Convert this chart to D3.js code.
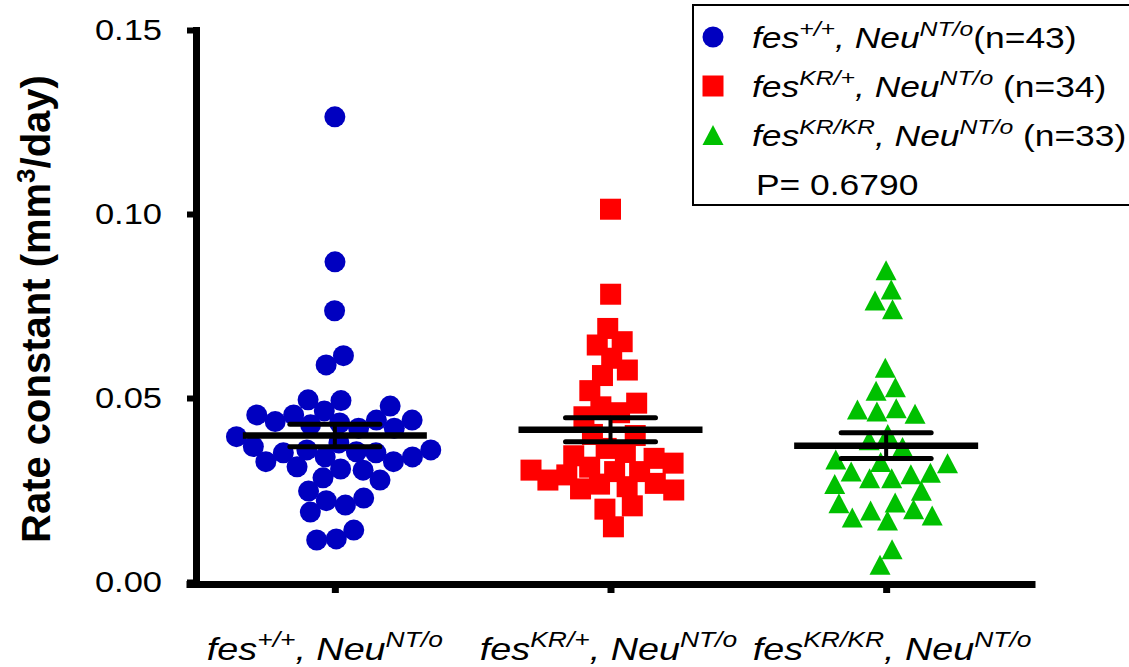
<!DOCTYPE html>
<meta charset="utf-8">
<style>
body { margin: 0; background: #fff; }
text { font-family: Arial, "Liberation Sans", sans-serif; fill: #000; }
</style>
<body>
<svg width="1129" height="667"></svg>
<script src="https://cdn.jsdelivr.net/npm/d3@7/dist/d3.min.js"></script>
<script>
// groups along the x axis
var groups = ["+/+", "KR/+", "KR/KR"];
var groupN = [43, 34, 33];
var groupColors = ["#0000c0", "#ff0000", "#00c000"];

// rate constants (mm3/day)
var wtValues = [0.1264, 0.0870, 0.0737, 0.0615, 0.0590, 0.0493, 0.0495, 0.0478, 0.0454, 0.0440,
  0.0427, 0.0418, 0.0436, 0.0440, 0.0454, 0.0432, 0.0465, 0.0418, 0.0395, 0.0359,
  0.0351, 0.0327, 0.0313, 0.0340, 0.0368, 0.0340, 0.0378, 0.0351, 0.0327, 0.0354,
  0.0304, 0.0307, 0.0283, 0.0277, 0.0247, 0.0221, 0.0209, 0.0228, 0.0190, 0.0141,
  0.0114, 0.0117, 0.0359];
var krValues = [0.1013, 0.0782, 0.0689, 0.0653, 0.0608, 0.0644, 0.0561, 0.0576, 0.0520, 0.0486,
  0.0460, 0.0476, 0.0449, 0.0398, 0.0401, 0.0352, 0.0363, 0.0336, 0.0343, 0.0323,
  0.0304, 0.0300, 0.0312, 0.0300, 0.0277, 0.0291, 0.0266, 0.0268, 0.0253, 0.0250,
  0.0259, 0.0207, 0.0198, 0.0150];
var krkrValues = [0.0847, 0.0795, 0.0765, 0.0741, 0.0582, 0.0529, 0.0520, 0.0472, 0.0469, 0.0457,
  0.0463, 0.0402, 0.0385, 0.0367, 0.0333, 0.0323, 0.0326, 0.0297, 0.0300, 0.0293,
  0.0282, 0.0282, 0.0266, 0.0248, 0.0214, 0.0216, 0.0194, 0.0198, 0.0175, 0.0181,
  0.0167, 0.0089, 0.0047];

var yTicks = [0, 0.05, 0.10, 0.15];
var pValue = "0.6790";

var allValues = [wtValues, krValues, krkrValues];

var svg = d3.select("svg");
var stretch = 1.18;

var y = d3.scaleLinear().domain([0, 0.15]).range([582, 30]);
var x = d3.scalePoint().domain(groups).range([186, 1035]).padding(0.54);

// y axis
var yAxis = svg.append("g")
    .attr("transform", "translate(196,0)")
    .call(d3.axisLeft(y).tickValues(yTicks).tickFormat(d3.format(".2f")).tickSize(9).tickSizeOuter(0));
yAxis.select(".domain").attr("stroke-width", 7).attr("stroke-linecap", "square");
yAxis.selectAll(".tick line").attr("stroke-width", 6);
yAxis.selectAll(".tick text")
    .attr("x", 0)
    .attr("transform", "translate(-34,0) scale(1.15,1)")
    .style("font-size", "30px")
    .style("font-family", "Arial, 'Liberation Sans', sans-serif");

// x axis
var xAxis = svg.append("g")
    .attr("transform", "translate(0," + (y(0) + 2) + ")")
    .call(d3.axisBottom(x).tickSize(9).tickSizeOuter(0).tickFormat(""));
xAxis.select(".domain").attr("stroke-width", 7);
xAxis.selectAll(".tick line").attr("stroke-width", 7);

// category labels
function genotype(sel, sup, size) {
  sel.append("tspan").attr("font-style", "italic").text("fes");
  sel.append("tspan").attr("font-style", "italic").attr("font-size", size * 0.7).attr("dy", -size * 0.4).text(sup);
  sel.append("tspan").attr("font-style", "italic").attr("dy", size * 0.4).text(", Neu");
  sel.append("tspan").attr("font-style", "italic").attr("font-size", size * 0.7).attr("dy", -size * 0.4).text("NT/o");
}

groups.forEach(function(g, i) {
  var t = svg.append("g")
      .attr("transform", "translate(" + (x(g) - 10 + i * 8) + ",660) scale(" + stretch + ",1)")
    .append("text")
      .attr("text-anchor", "middle")
      .attr("font-size", 32);
  genotype(t, g, 32);
});

// y title
var title = svg.append("text")
    .attr("transform", "translate(50,309) rotate(-90)")
    .attr("text-anchor", "middle")
    .attr("font-size", 40)
    .attr("font-weight", "bold");
title.append("tspan").text("Rate constant (mm");
title.append("tspan").attr("font-size", 26).attr("dy", -15).text("3");
title.append("tspan").attr("dy", 15).text("/day)");

// beeswarm: y is fixed by the value, x settles by collision
function swarm(values, cx) {
  var pts = values.map(function(v, i) {
    return {value: v, fy: y(v), y: y(v), x: cx + (i % 2 ? 1 : -1) * (i % 5)};
  });
  var sim = d3.forceSimulation(pts)
      .force("x", d3.forceX(cx).strength(0.03))
      .force("collide", d3.forceCollide(9.8).iterations(3))
      .stop();
  for (var k = 0; k < 400; k++) sim.tick();
  return pts;
}

var shapes = [
  function(g, c) { g.append("circle").attr("r", 10.5).attr("fill", c); },
  function(g, c) { g.append("rect").attr("x", -10.5).attr("y", -10.5).attr("width", 21).attr("height", 21).attr("fill", c); },
  function(g, c) { g.append("path").attr("d", "M0,-10L10.5,10L-10.5,10Z").attr("fill", c); }
];

groups.forEach(function(g, i) {
  var pts = swarm(allValues[i], x(g));
  svg.append("g").selectAll("g")
    .data(pts)
    .enter().append("g")
      .attr("transform", function(d) { return "translate(" + d.x + "," + d.fy + ")"; })
      .each(function() { shapes[i](d3.select(this), groupColors[i]); });
});

// mean and SEM
groups.forEach(function(g, i) {
  var vals = allValues[i];
  var m = d3.mean(vals);
  var sem = d3.deviation(vals) / Math.sqrt(vals.length);
  var cx = x(g);
  var grp = svg.append("g").attr("stroke", "#000").attr("stroke-linecap", "round");
  grp.append("line").attr("x1", cx).attr("x2", cx).attr("y1", y(m + sem)).attr("y2", y(m - sem)).attr("stroke-width", 4);
  grp.append("line").attr("x1", cx - 45).attr("x2", cx + 45).attr("y1", y(m + sem)).attr("y2", y(m + sem)).attr("stroke-width", 5);
  grp.append("line").attr("x1", cx - 45).attr("x2", cx + 45).attr("y1", y(m - sem)).attr("y2", y(m - sem)).attr("stroke-width", 5);
  grp.append("line").attr("x1", cx - 92).attr("x2", cx + 92).attr("y1", y(m)).attr("y2", y(m))
      .attr("stroke-width", 6.5).attr("stroke-linecap", "butt");
});

// legend
var legend = svg.append("g");
legend.append("rect")
    .attr("x", 693).attr("y", 5).attr("width", 445).attr("height", 200)
    .attr("fill", "#fff").attr("stroke", "#000").attr("stroke-width", 2);

var rowGap = ["", " ", " "];
groups.forEach(function(g, i) {
  var by = 48 + i * 49;
  var mk = legend.append("g").attr("transform", "translate(713," + (by - 11) + ")");
  shapes[i](mk, groupColors[i]);
  var t = legend.append("g")
      .attr("transform", "translate(752," + by + ") scale(" + stretch + ",1)")
    .append("text")
      .attr("font-size", 30);
  genotype(t, g, 30);
  t.append("tspan").attr("dy", 12).text(rowGap[i] + "(n=" + groupN[i] + ")");
});
legend.append("g")
    .attr("transform", "translate(756,195) scale(" + stretch + ",1)")
  .append("text")
    .attr("font-size", 30)
    .text("P= " + pValue);
</script>
</body>
